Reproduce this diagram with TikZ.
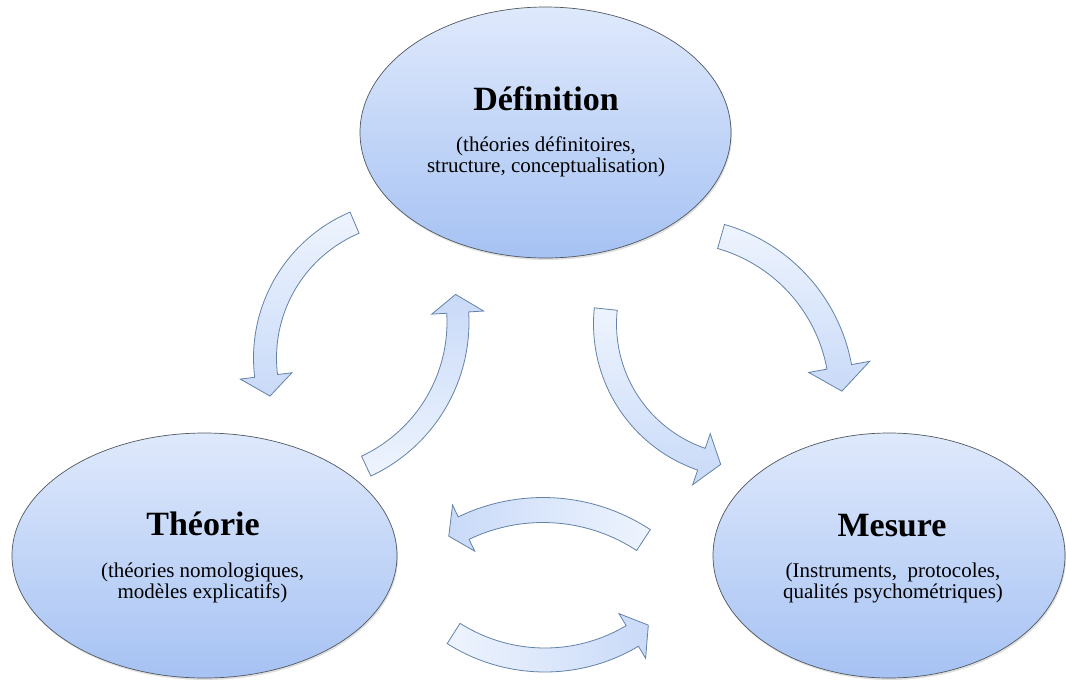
\documentclass[tikz,border=0pt]{standalone}
\usepackage{fontspec}
\setmainfont{Liberation Serif}
\usetikzlibrary{shapes.geometric,shadows}
\definecolor{ellTop}{HTML}{DFE9FC}
\definecolor{ellBot}{HTML}{A6C2F3}
\definecolor{ellLine}{HTML}{505860}
\definecolor{arrLight}{HTML}{EEF4FE}
\definecolor{arrDark}{HTML}{C9DAF8}
\definecolor{arrLine}{HTML}{6382A8}
% #1 style, #2 cx, #3 cy, #4 radius, #5 half body width,
% #6 tail angle, #7 head-base angle, #8 tip angle, #9 head half width
\newcommand\curvarrow[9]{%
  \path[blockarrow,#1]
    plot[domain=#6:#7,samples=40,variable=\t] ({#2+(#4+#5)*cos(\t)},{#3+(#4+#5)*sin(\t)})
    -- ({#2+(#4+#9)*cos(#7)},{#3+(#4+#9)*sin(#7)})
    -- ({#2+#4*cos(#8)},{#3+#4*sin(#8)})
    -- ({#2+(#4-#9)*cos(#7)},{#3+(#4-#9)*sin(#7)})
    -- plot[domain=#7:#6,samples=40,variable=\t] ({#2+(#4-#5)*cos(\t)},{#3+(#4-#5)*sin(\t)})
    -- cycle;}
\begin{document}
\begin{tikzpicture}[x=1pt,y=-1pt,
  bubble/.style={ellipse, draw=ellLine, line width=0.7pt, top color=ellTop, bottom color=ellBot,
    inner sep=0pt, drop shadow={opacity=0.25, shadow xshift=1pt, shadow yshift=-2pt}},
  titletext/.style={anchor=base, font=\fontsize{34}{38}\selectfont\bfseries},
  subtext/.style={anchor=base, font=\fontsize{21}{24}\selectfont},
  blockarrow/.style={draw=arrLine, line width=0.8pt},
  downgrad/.style={top color=arrLight, bottom color=arrDark},
  upgrad/.style={top color=arrDark, bottom color=arrLight},
  leftgrad/.style={left color=arrDark, right color=arrLight},
  rightgrad/.style={left color=arrLight, right color=arrDark}]
\useasboundingbox (0,0) rectangle (1066,681);
\fill[white] (0,0) rectangle (1066,681);

% ellipses
\node[bubble, minimum width=371pt, minimum height=251pt] (def) at (545.5,132.5) {};
\node[bubble, minimum width=385pt, minimum height=245pt] (theo) at (204.5,555.5) {};
\node[bubble, minimum width=352pt, minimum height=245pt] (mes) at (889,555.5) {};

% texts
\node[titletext] (defT) at (546,110) {Définition};
\node[subtext] (defA) at (546,151) {(théories définitoires,};
\node[subtext] (defB) at (546,172) {structure, conceptualisation)};

\node[titletext] (theoT) at (203,535) {Théorie};
\node[subtext] (theoA) at (202.5,577) {(théories nomologiques,};
\node[subtext] (theoB) at (202.5,598) {modèles explicatifs)};

\node[titletext] (mesT) at (892,536) {Mesure};
\node[subtext] (mesA) at (893,577) {(Instruments,\ \ protocoles,};
\node[subtext] (mesB) at (893,598) {qualités psychométriques)};

% curved block arrows
\curvarrow{downgrad}{412}{358}{147}{11.5}{247}{173}{165}{26}
\curvarrow{upgrad}{299}{322}{159}{11}{65}{-3.4}{-10}{26}
\curvarrow{downgrad}{675}{397}{167}{12.5}{-74}{-10.4}{-2}{31}
\curvarrow{downgrad}{748}{324}{143}{11.5}{186}{109}{101}{27}
\curvarrow{leftgrad}{543}{693}{183}{12.5}{-56.7}{-115.7}{-121}{25.6}
\curvarrow{rightgrad}{545}{489.5}{170.5}{12}{122.4}{59.2}{52.7}{26}
\end{tikzpicture}
\end{document}
